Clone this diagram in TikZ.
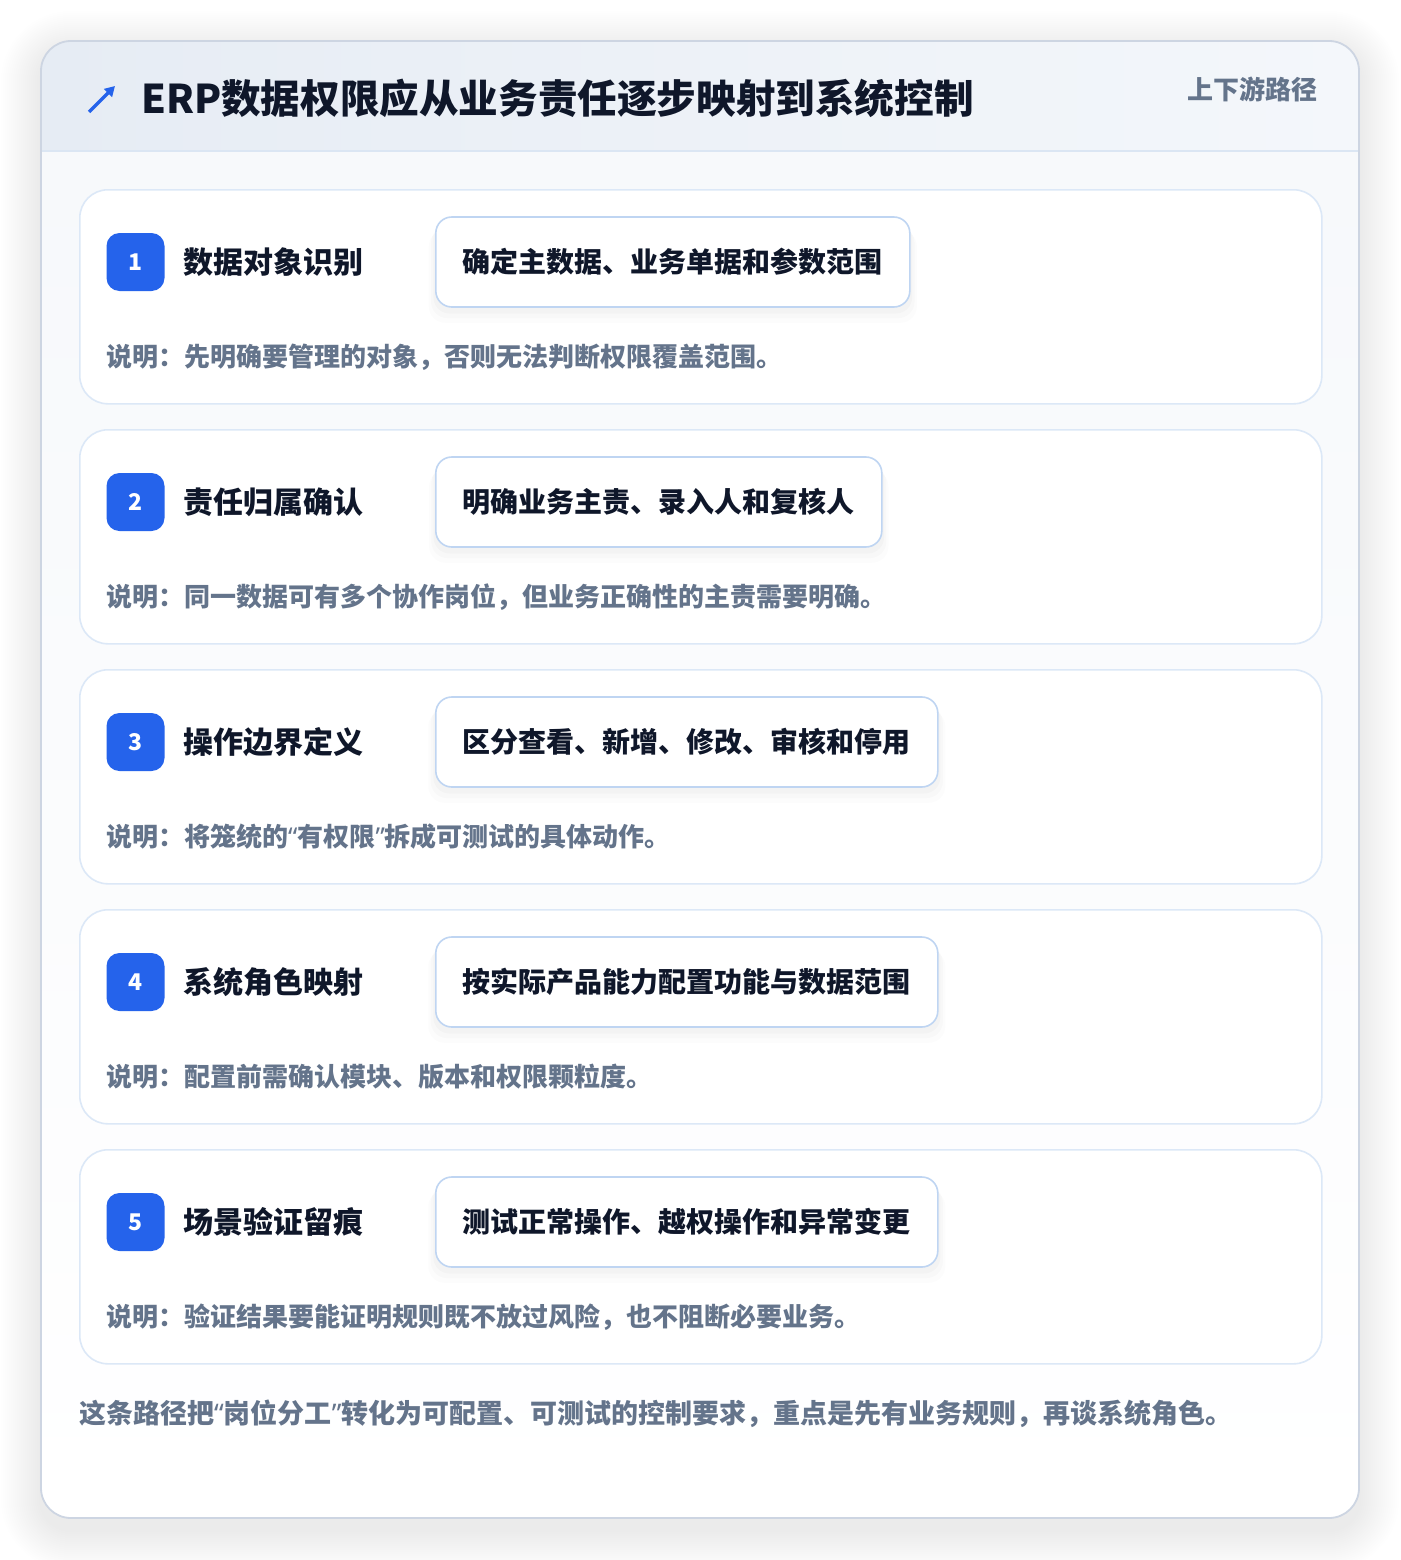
\documentclass[tikz,border=0pt]{standalone}
\usepackage{fontspec}
\setmainfont{Noto Sans CJK SC}
\newfontfamily\quotefont{Noto Sans}
\newcommand\openq{{\quotefont “}}
\newcommand\closeq{{\quotefont ”}}
\usetikzlibrary{positioning,arrows.meta,shadows}

\definecolor{inkdark}{HTML}{0F172A}
\definecolor{inkgray}{HTML}{64748B}
\definecolor{badgeblue}{HTML}{2563EB}
\definecolor{cardline}{HTML}{DCE8F7}
\definecolor{boxline}{HTML}{BFD5F2}
\definecolor{frameline}{HTML}{CDD5E2}
\definecolor{headleft}{HTML}{E6ECF4}
\definecolor{headright}{HTML}{F4F7FB}
\definecolor{bodytop}{HTML}{F6F8FB}
\definecolor{headrule}{HTML}{DBE6F3}

\tikzset{
  stepcard/.style={draw=cardline, line width=1.6pt, fill=white, rounded corners=28pt,
    minimum width=1242pt, minimum height=214pt, anchor=north west, inner sep=0pt},
  badge/.style={fill=badgeblue, rounded corners=13pt, minimum size=58pt, inner sep=0pt,
    text=white, font=\bfseries\fontsize{23}{23}\selectfont},
  stepname/.style={inner sep=0pt, text=inkdark, font=\bfseries\fontsize{30}{30}\selectfont},
  detailbox/.style={draw=boxline, line width=1.6pt, fill=white, rounded corners=16pt,
    minimum height=90pt, inner xsep=27pt, anchor=west, text=inkdark,
    font=\bfseries\fontsize{28}{28}\selectfont,
    general shadow={fill=black, opacity=0.012, shadow yshift=-14pt, shadow scale=1.03},
    general shadow={fill=black, opacity=0.015, shadow yshift=-10pt, shadow scale=1.02},
    general shadow={fill=black, opacity=0.018, shadow yshift=-6pt, shadow scale=1.01}},
  desc/.style={anchor=west, inner sep=0pt, text=inkgray, font=\bfseries\fontsize{26}{26}\selectfont},
}

\begin{document}
\begin{tikzpicture}[x=1pt,y=-1pt]
\useasboundingbox[fill=white] (0,0) rectangle (1400,1560);

% soft shadow of the frame
\foreach \g in {2,4,...,40}
  \fill[black, opacity=0.004, rounded corners=30pt+\g pt] (41-\g,51-\g) rectangle (1359+\g,1530+\g);

% frame and header
\fill[top color=bodytop, bottom color=white, rounded corners=30pt] (41,41) rectangle (1359,1518);
\begin{scope}
  \clip[rounded corners=30pt] (41,41) rectangle (1359,1518);
  \fill[left color=headleft, right color=headright] (41,41) rectangle (1359,151);
  \draw[headrule, line width=1.6pt] (41,151) -- (1359,151);
\end{scope}
\draw[frameline, line width=1.8pt, rounded corners=30pt] (41,41) rectangle (1359,1518);

\coordinate (icontail) at (89,112);
\coordinate (iconhead) at (115,86);
\draw[badgeblue, line width=3.5pt, -{Triangle[length=10pt,width=11pt]}] (icontail) -- (iconhead);
\node[anchor=west, inner sep=0pt, text=inkdark, font=\bfseries\fontsize{39.6}{40}\selectfont]
  (title) at (141,98) {ERP数据权限应从业务责任逐步映射到系统控制};
\node[anchor=east, inner sep=0pt, text=inkgray, font=\bfseries\fontsize{26}{26}\selectfont]
  (tag) at (1318,89) {上下游路径};

% steps
\foreach \i/\name/\detail/\desc in {
  1/数据对象识别/确定主数据、业务单据和参数范围/说明：先明确要管理的对象，否则无法判断权限覆盖范围。,
  2/责任归属确认/明确业务主责、录入人和复核人/说明：同一数据可有多个协作岗位，但业务正确性的主责需要明确。,
  3/操作边界定义/区分查看、新增、修改、审核和停用/说明：将笼统的\openq 有权限\closeq 拆成可测试的具体动作。,
  4/系统角色映射/按实际产品能力配置功能与数据范围/说明：配置前需确认模块、版本和权限颗粒度。,
  5/场景验证留痕/测试正常操作、越权操作和异常变更/说明：验证结果要能证明规则既不放过风险，也不阻断必要业务。}
{
  \pgfmathsetmacro\top{189+240*(\i-1)}
  \node[stepcard] (card\i) at (79,\top) {};
  \node[badge] (badge\i) at (135.5,\top+73) {\i};
  \node[stepname, right=19pt of badge\i] (name\i) {\name};
  \node[detailbox] (detail\i) at (435,\top+73) {\detail};
  \node[desc] (desc\i) at (106,\top+168) {\desc};
}

\node[desc, font=\bfseries\fontsize{27}{27}\selectfont] (summary) at (79,1414)
  {这条路径把\openq 岗位分工\closeq 转化为可配置、可测试的控制要求，重点是先有业务规则，再谈系统角色。};
\end{tikzpicture}
\end{document}
